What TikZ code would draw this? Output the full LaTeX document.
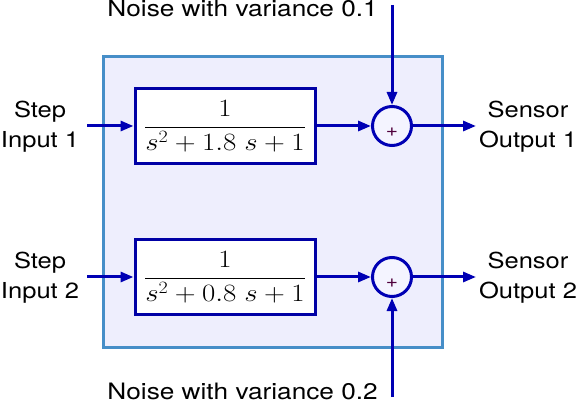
\documentclass[tikz,border=0pt]{standalone}
\usepackage{fontspec}
\setmainfont{TeX Gyre Heros}[FakeStretch=1.16]
\usepackage{graphicx}
\usetikzlibrary{arrows.meta}
\definecolor{arrowblue}{RGB}{0,0,180}
\definecolor{boxblue}{RGB}{0,0,165}
\definecolor{outerblue}{RGB}{70,142,200}
\definecolor{outerfill}{RGB}{238,238,253}
\definecolor{sumfill}{RGB}{244,244,255}
\definecolor{plusred}{RGB}{80,0,60}
\begin{document}
\begin{tikzpicture}[x=1pt,y=-1pt,
  conn/.style={draw=arrowblue,line width=3pt,-{Triangle[length=13pt,width=10pt]}},
  tfbox/.style={draw=boxblue,line width=3pt,fill=white,minimum width=180pt,minimum height=75pt,inner sep=0pt},
  sumnode/.style={circle,draw=arrowblue,line width=3pt,fill=sumfill,minimum size=39pt,inner sep=0pt},
  lbl/.style={font=\fontsize{22}{30}\selectfont,align=center,inner sep=0pt},
  noiselbl/.style={font=\fontsize{22.6}{30}\selectfont,inner sep=0pt},
  plus/.style={text=plusred,font=\fontsize{18}{18}\selectfont,inner sep=0pt}]
\useasboundingbox (0,0) rectangle (578,403);
\fill[white] (0,0) rectangle (578,403);
\node[draw=outerblue,fill=outerfill,line width=3pt,minimum width=339pt,minimum height=290pt,inner sep=0pt] (outer) at (272.5,202) {};
\node[tfbox] (tf1) at (225,126) {\fontsize{23}{27}\selectfont\scalebox{1.16}[1]{$\displaystyle\frac{1}{s^2+1.8\;s+1}$}};
\node[tfbox] (tf2) at (225,277) {\fontsize{23}{27}\selectfont\scalebox{1.16}[1]{$\displaystyle\frac{1}{s^2+0.8\;s+1}$}};
\node[sumnode] (sum1) at (392,126) {};
\node[sumnode] (sum2) at (392,277) {};
\node[plus] (p1) at (392,132.5) {+};
\node[plus] (p2) at (392,283.5) {+};
\node[lbl] (in1) at (40,127) {Step\\Input 1};
\node[lbl] (in2) at (40,278) {Step\\Input 2};
\node[lbl] (out1) at (528,127) {Sensor\\Output 1};
\node[lbl] (out2) at (528,278) {Sensor\\Output 2};
\node[noiselbl,anchor=base east] (n1) at (378,17) {Noise with variance 0.1};
\node[noiselbl,anchor=base east] (n2) at (378,399) {Noise with variance 0.2};
\coordinate (i1) at (87,126);
\coordinate (i2) at (87,277);
\coordinate (o1) at (476,126);
\coordinate (o2) at (476,277);
\coordinate (t1) at (392,5);
\coordinate (b2) at (392,397);
\draw[conn] (i1) -- (tf1.west);
\draw[conn] (i2) -- (tf2.west);
\draw[conn] (tf1.east) -- (sum1.west);
\draw[conn] (tf2.east) -- (sum2.west);
\draw[conn] (sum1.east) -- (o1);
\draw[conn] (sum2.east) -- (o2);
\draw[conn] (t1) -- (sum1.north);
\draw[conn] (b2) -- (sum2.south);
\end{tikzpicture}
\end{document}
